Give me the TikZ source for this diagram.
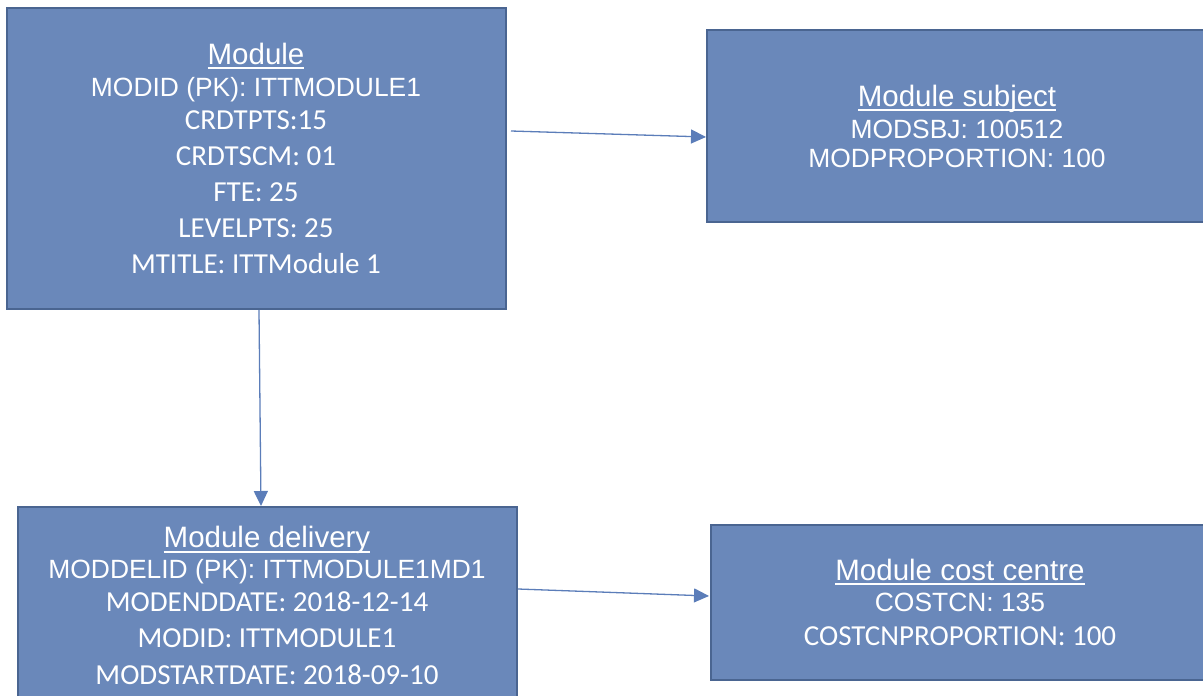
\documentclass[tikz,border=0pt]{standalone}
\usepackage{fontspec}
\setmainfont{Liberation Sans}
\newfontfamily\calib{Carlito}
\usetikzlibrary{arrows.meta}
\definecolor{boxfill}{HTML}{6A88BA}
\definecolor{boxline}{HTML}{4A6591}
\definecolor{arr}{HTML}{5B7DB9}
\newcommand\myul[1]{\setbox0\hbox{#1}\rlap{\rule[-5.3pt]{\wd0}{2pt}}\box0}
\begin{document}
\begin{tikzpicture}[x=1pt,y=-1pt,
  entity/.style={draw=boxline, line width=2pt, fill=boxfill, inner sep=0pt, rectangle},
  ti/.style={anchor=base, inner sep=0pt, text=white, font=\fontsize{29.5}{33}\selectfont},
  ar/.style={anchor=base, inner sep=0pt, text=white, font=\fontsize{26.4}{30}\selectfont},
  ca/.style={anchor=base, inner sep=0pt, text=white, font=\calib\fontsize{29}{33}\selectfont},
  link/.style={draw=arr, line width=1.3pt, -{Triangle[length=15pt,width=14pt]}}]
\useasboundingbox (0,0) rectangle (1203,696);
% boxes
\node[entity, minimum width=499pt, minimum height=301pt] (mod) at (256.5,158.5) {};
\node[entity, minimum width=500pt, minimum height=192pt] (subj) at (957,126) {};
\node[entity, minimum width=499pt, minimum height=198pt] (del) at (267.5,606) {};
\node[entity, minimum width=498pt, minimum height=155pt] (cost) at (960,602.5) {};
% module texts
\node[ti] (m0) at (256,64) {\myul{Module}};
\node[ar] (m1) at (256,96.7) {MODID (PK): ITTMODULE1};
\node[ca] (m2) at (256,129.3) {CRDTPTS:15};
\node[ca] (m3) at (256,165.3) {CRDTSCM: 01};
\node[ca] (m4) at (256,201.3) {FTE: 25};
\node[ca] (m5) at (256,237.3) {LEVELPTS: 25};
\node[ca] (m6) at (256,273.3) {MTITLE: ITTModule 1};
% subject texts
\node[ti] (s0) at (957,106) {\myul{Module subject}};
\node[ar] (s1) at (957,138.3) {MODSBJ: 100512};
\node[ar] (s2) at (957,167.7) {MODPROPORTION: 100};
% delivery texts
\node[ti] (d0) at (267,547.3) {\myul{Module delivery}};
\node[ar] (d1) at (267,578.3) {MODDELID (PK): ITTMODULE1MD1};
\node[ca] (d2) at (267,611.7) {MODENDDATE: 2018-12-14};
\node[ca] (d3) at (267,647.7) {MODID: ITTMODULE1};
\node[ca] (d4) at (267,684.3) {MODSTARTDATE: 2018-09-10};
% cost centre texts
\node[ti] (c0) at (960,580) {\myul{Module cost centre}};
\node[ar] (c1) at (960,611.7) {COSTCN: 135};
\node[ca] (c2) at (960,645) {COSTCNPROPORTION: 100};
% connectors
\coordinate (a1s) at (511,131);
\coordinate (a1e) at (706,137);
\coordinate (a2s) at (259,310);
\coordinate (a2e) at (261,506);
\coordinate (a3s) at (518,589);
\coordinate (a3e) at (709,596);
\draw[link] (a1s) -- (a1e);
\draw[link] (a2s) -- (a2e);
\draw[link] (a3s) -- (a3e);
\end{tikzpicture}
\end{document}
